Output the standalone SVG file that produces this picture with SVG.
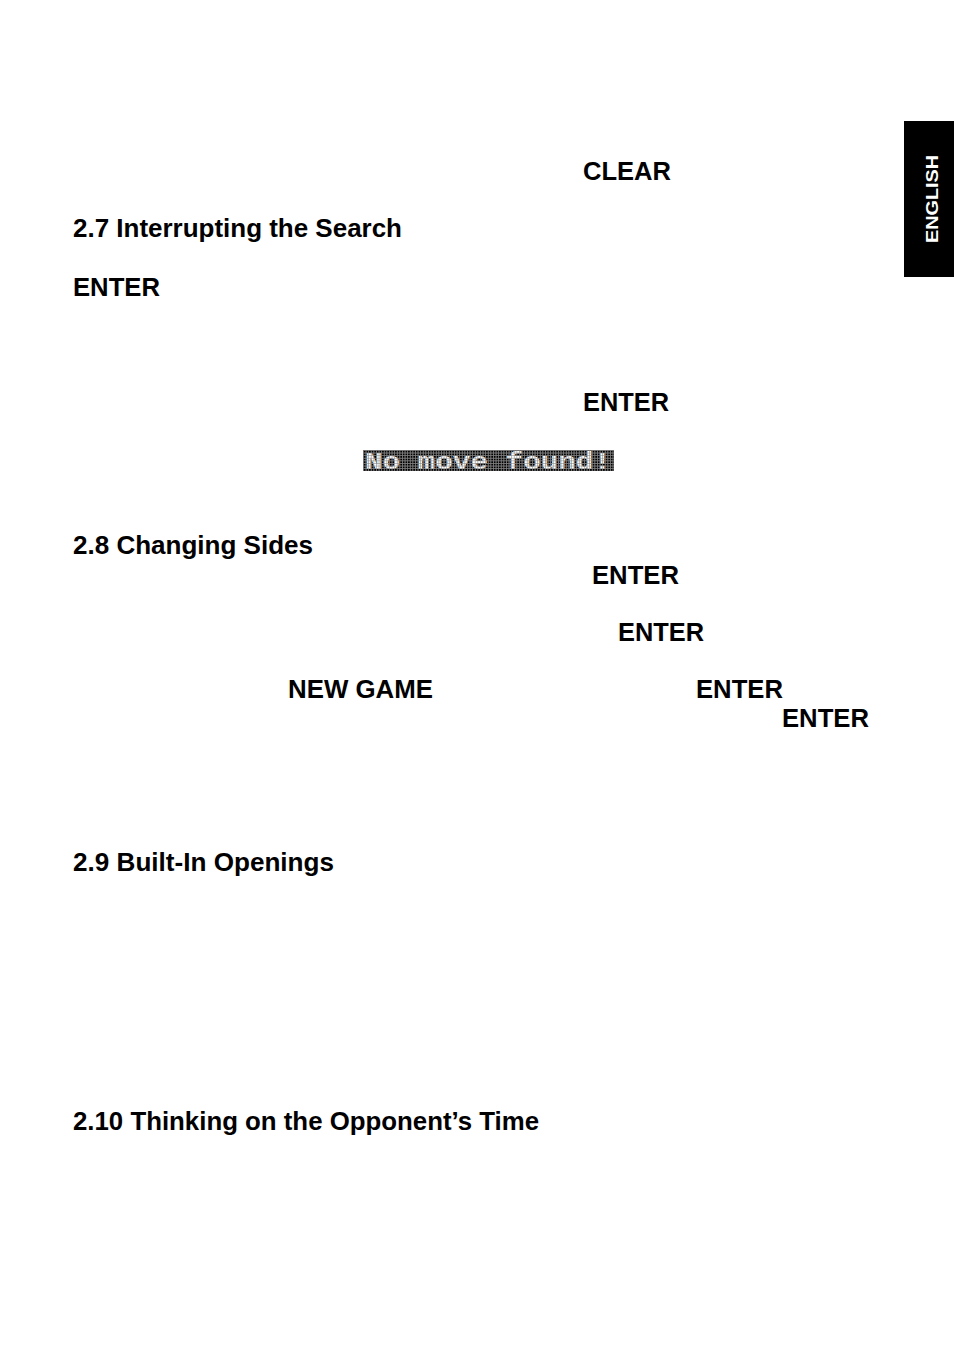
<svg xmlns="http://www.w3.org/2000/svg" width="954" height="1345" viewBox="0 0 954 1345">
<style>
.t{font-family:"Liberation Sans",Arial,sans-serif;font-weight:bold;font-size:25px;fill:#000}
.tab{font-family:"Liberation Sans",Arial,sans-serif;font-weight:bold;font-size:17px;fill:#fff}
.lcd{font-family:"Liberation Mono","DejaVu Sans Mono",monospace;font-weight:bold;font-size:23px;fill:#fff}
</style>
<defs>
<pattern id="grid" x="363" y="450" width="2.6" height="2.6" patternUnits="userSpaceOnUse">
<rect width="2.6" height="2.6" fill="#000"/>
<rect width="2.6" height="0.6" fill="#999"/>
<rect width="0.6" height="2.6" fill="#999"/>
</pattern>
<pattern id="grid2" x="363" y="450" width="2.6" height="2.6" patternUnits="userSpaceOnUse">
<rect width="2.6" height="2.6" fill="none"/>
<rect width="2.6" height="0.5" fill="#777"/>
<rect width="0.5" height="2.6" fill="#777"/>
</pattern>
</defs>
<rect width="954" height="1345" fill="#fff"/>
<g id="tab">
<rect x="904" y="121" width="50" height="156" fill="#000"/>
<text class="tab" transform="translate(938,199) rotate(-90)" text-anchor="middle" textLength="88" lengthAdjust="spacingAndGlyphs">ENGLISH</text>
</g>
<g id="clear1"><text class="t" x="583" y="180" textLength="88" lengthAdjust="spacingAndGlyphs">CLEAR</text></g>
<g id="h27"><text class="t" x="73" y="237" textLength="329" lengthAdjust="spacingAndGlyphs">2.7 Interrupting the Search</text></g>
<g id="enter1"><text class="t" x="73" y="296" textLength="87" lengthAdjust="spacingAndGlyphs">ENTER</text></g>
<g id="enter2"><text class="t" x="583" y="411" textLength="86" lengthAdjust="spacingAndGlyphs">ENTER</text></g>
<g id="lcd">
<rect x="363" y="450" width="251" height="21" fill="url(#grid)"/>
<text class="lcd" x="365" y="469" textLength="246" lengthAdjust="spacingAndGlyphs">No move found!</text>
<rect x="363" y="450" width="251" height="21" fill="url(#grid2)"/>
</g>
<g id="h28"><text class="t" x="73" y="554" textLength="240" lengthAdjust="spacingAndGlyphs">2.8 Changing Sides</text></g>
<g id="enter3"><text class="t" x="592" y="584" textLength="87" lengthAdjust="spacingAndGlyphs">ENTER</text></g>
<g id="enter4"><text class="t" x="618" y="641" textLength="86" lengthAdjust="spacingAndGlyphs">ENTER</text></g>
<g id="newgame"><text class="t" x="288" y="698" textLength="145" lengthAdjust="spacingAndGlyphs">NEW GAME</text></g>
<g id="enter5"><text class="t" x="696" y="698" textLength="87" lengthAdjust="spacingAndGlyphs">ENTER</text></g>
<g id="enter6"><text class="t" x="782" y="727" textLength="87" lengthAdjust="spacingAndGlyphs">ENTER</text></g>
<g id="h29"><text class="t" x="73" y="871" textLength="261" lengthAdjust="spacingAndGlyphs">2.9 Built-In Openings</text></g>
<g id="h210"><text class="t" x="73" y="1130" textLength="466" lengthAdjust="spacingAndGlyphs">2.10 Thinking on the Opponent’s Time</text></g>
<g id="connectors"></g>
</svg>
